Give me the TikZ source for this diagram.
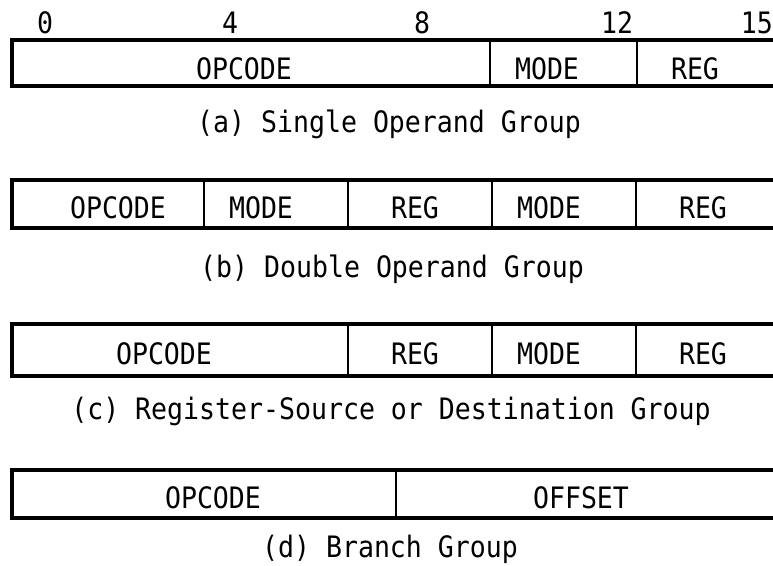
\documentclass[tikz,border=0pt]{standalone}
\usepackage{fontspec}
\newfontfamily\typefont[FakeStretch=0.9]{DejaVu Sans Mono}
\begin{document}
\begin{tikzpicture}[x=1pt,y=-1pt,
  frame/.style={line width=3.2pt, line join=miter},
  divider/.style={line width=2.8pt},
  txt/.style={font=\typefont\fontsize{29.5}{31}\selectfont, inner sep=0pt, anchor=base},
]
\useasboundingbox (0,0) rectangle (773,565);
\clip (0,0) rectangle (773,565);

% bit numbers
\node[txt] (b0)  at (45,33)  {0};
\node[txt] (b4)  at (230,33) {4};
\node[txt] (b8)  at (422,33) {8};
\node[txt] (b12) at (617,33) {12};
\node[txt, anchor=base east] (b15) at (773,33) {15};

% (a) single operand group
\draw[frame] (12,40) rectangle (784,86);
\draw[divider] (490,40) -- (490,86);
\draw[divider] (637,40) -- (637,86);
\node[txt] (aop)   at (244,79) {OPCODE};
\node[txt] (amode) at (547,79) {MODE};
\node[txt] (areg)  at (695,79) {REG};
\node[txt] (acap)  at (389,132) {(a) Single Operand Group};

% (b) double operand group
\draw[frame] (12,180) rectangle (784,228);
\foreach \x in {204,348,492,636} \draw[divider] (\x,180) -- (\x,228);
\node[txt] (bop)    at (118,218) {OPCODE};
\node[txt] (bmode1) at (261,218) {MODE};
\node[txt] (breg1)  at (415,218) {REG};
\node[txt] (bmode2) at (549,218) {MODE};
\node[txt] (breg2)  at (703,218) {REG};
\node[txt] (bcap)   at (392,277) {(b) Double Operand Group};

% (c) register-source or destination group
\draw[frame] (12,324) rectangle (784,376);
\foreach \x in {348,492,636} \draw[divider] (\x,324) -- (\x,376);
\node[txt] (cop)   at (164,364) {OPCODE};
\node[txt] (creg1) at (415,364) {REG};
\node[txt] (cmode) at (549,364) {MODE};
\node[txt] (creg2) at (703,364) {REG};
\node[txt] (ccap)  at (391,419) {(c) Register-Source or Destination Group};

% (d) branch group
\draw[frame] (12,470) rectangle (784,518);
\draw[divider] (396,470) -- (396,518);
\node[txt] (dop)  at (213,508) {OPCODE};
\node[txt] (doff) at (581,508) {OFFSET};
\node[txt] (dcap) at (390,557) {(d) Branch Group};
\end{tikzpicture}
\end{document}
